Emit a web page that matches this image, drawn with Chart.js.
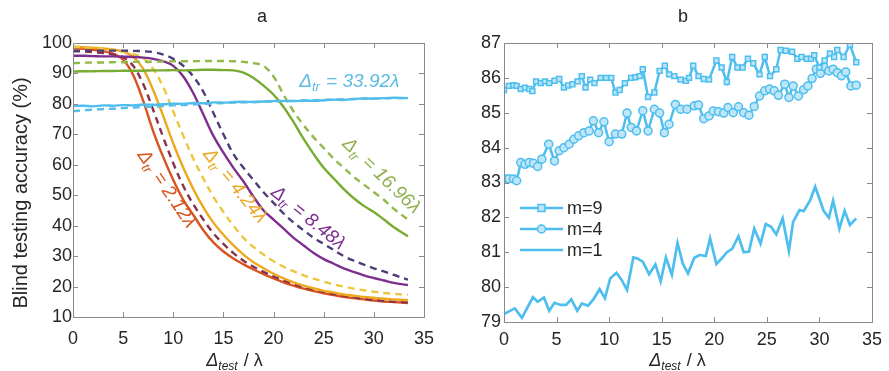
<!DOCTYPE html>
<html>
<head>
<meta charset="utf-8">
<script src="https://cdn.jsdelivr.net/npm/chart.js@4.4.0/dist/chart.umd.min.js"></script>
<style>
html, body { margin: 0; padding: 0; background: #fff; }
#wrap { position: relative; width: 889px; height: 371px; overflow: hidden; }
canvas { position: absolute; top: 0; }
#chartA { left: 0; }
#chartB { left: 445px; }
</style>
</head>
<body>
<div id="wrap">
  <canvas id="chartA" width="445" height="371"></canvas>
  <canvas id="chartB" width="444" height="371"></canvas>
</div>
<script>
// ---- panel a data (x in units of lambda, y = accuracy %) ----
const aX = [0,1,2,3,4,5,6,7,8,9,10,11,12,13,14,15,16,17,18,19,20,21,22,23,24,25,26,27,28,29,30,31,32,33.4];

const red212Solid  = [98.3,98.1,97.8,97.3,96.5,94.5,89.5,81,71,62.5,55,48.5,43.5,38.5,34.5,31.5,29.2,27.3,25.6,24.1,22.7,21.4,20.3,19.3,18.5,17.8,17.2,16.6,16.2,15.8,15.4,15.1,14.9,14.6];
const red212Dash   = [97.3,97.2,97,96.7,96.2,95.3,92.5,86.5,78,69,60.5,53,47,42,37.5,34,31,28.5,26.5,24.8,23.3,22,20.8,19.8,19,18.2,17.5,17,16.5,16,15.6,15.3,15,14.8];
const yel424Solid  = [98.7,98.6,98.4,98.2,97.8,97.2,95.5,91.5,84.5,76,67,59,52,46,41,37,33.5,30.5,28,26,24.2,22.7,21.4,20.3,19.4,18.6,18,17.4,17,16.6,16.3,16,15.8,15.5];
const yel424Dash   = [98.8,98.7,98.5,98.2,97.8,97.2,96.4,95,91.5,85.5,77.5,69.5,62,55.5,49.5,44.5,40,36,33,30.5,28.3,26.5,25,23.7,22.6,21.6,20.7,20,19.3,18.8,18.3,17.9,17.6,17.3];
const pur848Solid  = [95.8,95.8,95.7,95.6,95.6,95.5,95.4,95.2,94.8,94,92.5,89,83.5,76.5,69.5,64,59,54.5,49.5,45,42,39,36,33.5,31,29,27.5,26,24.8,23.7,22.8,22,21.2,20.5];
const pur848Dash   = [97.5,97.5,97.5,97.5,97.5,97.5,97.4,97.3,97,96.2,94.8,92.5,89,84,77,70,63.5,59,55,51,47.5,44,41,38.5,36,34,32,30,28.5,27.2,26,25,23.8,22.3];
const grn1696Solid = [90.6,90.7,90.7,90.8,90.8,90.9,90.9,90.9,91,91,91.1,91,91.1,91.2,91.2,91.1,91,90.3,88.5,86,83,79,74,68.5,63.5,59,55.5,52,49,46.5,44.5,42,39.5,36.5];
const grn1696Dash  = [93.4,93.5,93.6,93.6,93.7,93.7,93.8,93.8,93.9,93.9,94,94,94,94.1,94.1,94.1,94,93.8,93.4,92.5,89,83,77.5,73,69,65.5,62,59,56,53.5,51,48.5,45.5,42];
const blu3392Solid = [79.3,79.4,79.2,79.5,79.4,79.6,79.5,79.8,79.7,79.9,80.1,80,80.3,80.2,80.5,80.4,80.6,80.7,80.6,80.8,80.9,81,80.9,81.1,81,81.2,81.4,81.3,81.6,81.8,81.7,81.9,82,81.9];
const blu3392Dash  = [77.6,77.9,78.1,78.3,78.4,78.6,78.8,79,79.1,79.3,79.5,79.6,79.8,80,80.1,80.3,80.4,80.5,80.6,80.7,80.8,80.9,81,81.1,81.2,81.3,81.4,81.5,81.6,81.7,81.8,81.8,81.9,81.9];

// ---- panel b data ----
const m9X = [0,0.47,0.9,1.2,1.6,2,2.4,2.7,3.06,3.5,3.9,4.3,4.8,5.25,5.7,6.1,6.5,7,7.4,7.75,8.2,8.6,9.2,9.7,10.2,10.6,11,11.5,12.1,12.5,12.9,13.2,13.7,14.3,14.8,15.3,15.7,16.2,16.8,17.3,17.6,18,18.5,19,19.5,20.2,20.7,21.2,21.7,22.2,22.7,23.2,23.7,24.3,24.8,25.3,25.9,26.3,26.8,27.4,27.9,28.3,28.8,29.2,29.5,30,30.5,31,31.4,31.7,32.3,32.9,33.5];
const m9Y = [85.65,85.77,85.79,85.77,85.68,85.72,85.68,85.62,85.9,85.85,85.9,85.85,85.92,85.97,85.72,85.78,85.82,85.9,86.05,85.72,85.95,85.85,86,86,86,85.58,85.65,85.85,86,86.02,86.05,86.25,85.45,85.58,86.2,86.35,86.1,86.05,85.95,85.92,86,86.35,86.05,85.97,85.95,86.5,86.3,85.88,86.6,86.3,86.3,86.55,86.42,86.1,86.6,86.05,86.25,86.8,86.78,86.75,86.55,86.6,86.55,86.55,86.65,86.3,86.5,86.7,86.6,86.8,86.6,86.95,86.45];
const m4X = [0,0.47,0.9,1.2,1.6,2,2.4,2.8,3.2,3.6,4.25,4.8,5.25,5.7,6.2,6.65,7.1,7.6,8.1,8.5,9,9.5,10,10.6,11.2,11.7,12.1,12.6,13.2,13.7,14.3,14.8,15.25,15.7,16.3,16.8,17.4,18.1,18.5,19,19.5,19.9,20.4,20.9,21.3,21.8,22.3,22.8,23.3,23.8,24.3,24.8,25.25,25.7,26.1,26.7,27.1,27.5,28,28.5,28.9,29.3,29.7,30.1,30.4,30.9,31.3,31.7,32.1,32.5,33,33.5];
const m4Y = [83.11,83.11,83.1,83.05,83.57,83.52,83.57,83.55,83.46,83.67,84.1,83.62,83.91,84,84.1,84.24,84.34,84.43,84.48,84.77,84.43,84.74,84.17,84.39,84.39,84.99,84.58,84.48,85.06,84.48,85.1,84.99,84.43,84.67,85.24,85.1,85.1,85.2,85.22,84.83,84.91,85.05,85.03,84.99,85.15,85,85.17,85,84.93,85.18,85.48,85.63,85.68,85.63,85.5,85.82,85.44,85.77,85.48,85.66,85.77,85.98,86.25,86.13,86.32,86.2,86.25,86.15,86.06,86.17,85.77,85.79];
const m1X = [0,1.03,1.7,2.75,3.2,3.8,4.3,4.8,5.4,5.9,6.4,6.97,7.4,8,8.5,9.1,9.6,10.1,10.7,11.2,11.7,12.3,12.7,13.2,13.8,14.4,14.9,15.4,15.97,16.5,17,17.5,18.1,18.6,19.2,19.6,20.2,20.7,21.2,21.7,22.3,22.8,23.3,23.8,24.4,24.9,25.4,25.9,26.5,27.1,27.5,28.1,28.5,29.1,29.6,30.4,30.9,31.3,31.9,32.4,32.9,33.5];
const m1Y = [79.23,79.39,79.12,79.71,79.58,79.7,79.32,79.55,79.49,79.49,79.65,79.32,79.53,79.47,79.65,79.94,79.68,80.25,80.41,80.2,79.92,80.85,80.82,80.73,80.37,80.65,80.17,80.85,80.35,81.27,80.68,80.39,80.84,80.92,80.89,81.4,80.66,80.82,81,81.1,81.46,81,81.02,81.68,81.25,81.81,81.73,81.51,81.97,81.04,81.87,82.21,82.18,82.48,82.88,82.19,81.99,82.48,81.68,82.19,81.78,81.97];

const FONT = '"Liberation Sans", Arial, sans-serif';
const TXT = '#262626';
const LBLUE = '#4dbeee';

function pts(xs, ys) { return xs.map((x, i) => ({ x: x, y: ys[i] })); }

function aLine(ys, color, dashed) {
    return { data: pts(aX, ys), borderColor: color, borderWidth: 2.4, borderDash: dashed ? [7, 5] : [], pointRadius: 0, tension: 0.35, fill: false };
}

// italic delta with subscript, then the rest of the text
function drawDelta(ctx, x, y, sub, rest, size, color, angle, restItalic) {
    ctx.save();
    ctx.translate(x, y);
    ctx.rotate(angle * Math.PI / 180);
    ctx.fillStyle = color;
    ctx.textBaseline = 'middle';
    ctx.textAlign = 'left';
    const big = `italic ${size}px ${FONT}`;
    const small = `italic ${Math.round(size * 0.68)}px ${FONT}`;
    const restFont = restItalic ? big : `${size}px ${FONT}`;
    ctx.font = big; const w1 = ctx.measureText('Δ').width;
    ctx.font = small; const w2 = ctx.measureText(sub).width;
    ctx.font = restFont; const w3 = ctx.measureText(rest).width;
    const x0 = -(w1 + w2 + w3) / 2;
    ctx.font = big; ctx.fillText('Δ', x0, 0);
    ctx.font = small; ctx.fillText(sub, x0 + w1, size * 0.3);
    ctx.font = restFont; ctx.fillText(rest, x0 + w1 + w2 + 1, 0);
    ctx.restore();
}

// box round the plot with MATLAB style inner ticks, plus titles and notes
const decorPlugin = {
    id: 'decor',
    afterDraw(chart, args, opts) {
        const { ctx, chartArea: a, scales } = chart;
        ctx.save();
        ctx.strokeStyle = '#8a8a8a';
        ctx.lineWidth = 1;
        ctx.strokeRect(Math.round(a.left) + 0.5, Math.round(a.top) + 0.5, Math.round(a.right - a.left), Math.round(a.bottom - a.top));
        const len = 5;
        ctx.beginPath();
        scales.x.ticks.forEach(t => {
            const px = Math.round(scales.x.getPixelForValue(t.value)) + 0.5;
            ctx.moveTo(px, a.bottom); ctx.lineTo(px, a.bottom - len);
            ctx.moveTo(px, a.top); ctx.lineTo(px, a.top + len);
        });
        scales.y.ticks.forEach(t => {
            const py = Math.round(scales.y.getPixelForValue(t.value)) + 0.5;
            ctx.moveTo(a.left, py); ctx.lineTo(a.left + len, py);
            ctx.moveTo(a.right, py); ctx.lineTo(a.right - len, py);
        });
        ctx.stroke();

        // panel title
        ctx.fillStyle = TXT;
        ctx.font = `18px ${FONT}`;
        ctx.textAlign = 'center';
        ctx.textBaseline = 'middle';
        ctx.fillText(opts.title, opts.titleX, 17);

        // x axis title
        drawDelta(ctx, opts.xTitleX, 361, 'test', ' / λ', 18, TXT, 0, false);

        if (opts.yTitle) {
            ctx.save();
            ctx.translate(21, 193);
            ctx.rotate(-Math.PI / 2);
            ctx.font = `20px ${FONT}`;
            ctx.fillStyle = TXT;
            ctx.textAlign = 'center';
            ctx.textBaseline = 'middle';
            ctx.fillText('Blind testing accuracy (%)', 0, 0);
            ctx.restore();
        }

        (opts.notes || []).forEach(n => {
            const px = scales.x.getPixelForValue(n.x);
            const py = scales.y.getPixelForValue(n.y);
            drawDelta(ctx, px, py, 'tr', ' = ' + n.text, 19, n.color, n.angle, true);
        });

        if (opts.legend) {
            const lg = opts.legend;
            ctx.font = `18px ${FONT}`;
            ctx.textAlign = 'left';
            ctx.textBaseline = 'middle';
            lg.items.forEach((it, i) => {
                const y = lg.top + i * lg.step;
                ctx.strokeStyle = LBLUE;
                ctx.lineWidth = 2.5;
                ctx.beginPath();
                ctx.moveTo(lg.left, y); ctx.lineTo(lg.left + 43, y);
                ctx.stroke();
                const cx = lg.left + 21.5;
                ctx.lineWidth = 1.5;
                ctx.fillStyle = '#bfe6f7';
                if (it.marker === 'rect') {
                    ctx.fillRect(cx - 3.5, y - 3.5, 7, 7);
                    ctx.strokeRect(cx - 3.5, y - 3.5, 7, 7);
                } else if (it.marker === 'circle') {
                    ctx.beginPath(); ctx.arc(cx, y, 4, 0, Math.PI * 2); ctx.fill(); ctx.stroke();
                }
                ctx.fillStyle = TXT;
                ctx.fillText(it.label, lg.left + 47, y + 1);
            });
        }
        ctx.restore();
    }
};

function axisOpts(min, max, step, fitW, fitH, padX, padY) {
    return {
        x: {
            type: 'linear', min: 0, max: 35,
            grid: { display: false, drawTicks: false }, border: { display: false },
            ticks: { stepSize: 5, color: TXT, font: { family: FONT, size: 18 }, padding: padX, maxRotation: 0 },
            afterFit: s => { s.height = fitH; }
        },
        y: {
            type: 'linear', min: min, max: max,
            grid: { display: false, drawTicks: false }, border: { display: false },
            ticks: { stepSize: step, color: TXT, font: { family: FONT, size: 18 }, padding: padY },
            afterFit: s => { s.width = fitW; }
        }
    };
}

new Chart(document.getElementById('chartA'), {
    type: 'line',
    data: {
        datasets: [
            aLine(blu3392Dash, '#56bde8', true),
            aLine(blu3392Solid, LBLUE, false),
            aLine(grn1696Dash, '#93b84a', true),
            aLine(grn1696Solid, '#77ac30', false),
            aLine(pur848Dash, '#4f3d78', true),
            aLine(pur848Solid, '#7e2f8e', false),
            aLine(yel424Dash, '#ecc63e', true),
            aLine(yel424Solid, '#eda81e', false),
            aLine(red212Dash, '#86324f', true),
            aLine(red212Solid, '#d9531e', false)
        ]
    },
    options: {
        responsive: false,
        animation: false,
        layout: { padding: { left: 0, right: 8, top: 43, bottom: 0 } },
        scales: axisOpts(10, 100, 10, 73, 54, 11, 1),
        plugins: {
            legend: { display: false },
            tooltip: { enabled: false },
            decor: {
                title: 'a', titleX: 262, xTitleX: 234, yTitle: true,
                notes: [
                    { x: 27.5, y: 87.4, text: '33.92λ', color: '#5cbbe4', angle: 0 },
                    { x: 30.7, y: 56.5, text: '16.96λ', color: '#8fb04c', angle: 44 },
                    { x: 23.4, y: 42.6, text: '8.48λ', color: '#7e2f8e', angle: 39 },
                    { x: 16.1, y: 53.2, text: '4.24λ', color: '#e9a824', angle: 51 },
                    { x: 9.3, y: 52.2, text: '2.12λ', color: '#d9531e', angle: 56 }
                ]
            }
        }
    },
    plugins: [decorPlugin]
});

new Chart(document.getElementById('chartB'), {
    type: 'line',
    data: {
        datasets: [
            { label: 'm=9', data: pts(m9X, m9Y), borderColor: LBLUE, borderWidth: 2.5, pointStyle: 'rect', pointRadius: 3.5, pointBorderWidth: 1.5, pointBackgroundColor: '#bfe6f7', pointBorderColor: LBLUE, tension: 0 },
            { label: 'm=4', data: pts(m4X, m4Y), borderColor: LBLUE, borderWidth: 2.5, pointStyle: 'circle', pointRadius: 4, pointBorderWidth: 1.5, pointBackgroundColor: '#bfe6f7', pointBorderColor: LBLUE, tension: 0 },
            { label: 'm=1', data: pts(m1X, m1Y), borderColor: LBLUE, borderWidth: 2.7, pointRadius: 0, tension: 0 }
        ]
    },
    options: {
        responsive: false,
        animation: false,
        layout: { padding: { left: 0, right: 12, top: 43, bottom: 0 } },
        scales: axisOpts(79, 87, 1, 59, 49, 7, 3),
        plugins: {
            legend: { display: false },
            tooltip: { enabled: false },
            decor: {
                title: 'b', titleX: 238, xTitleX: 232, yTitle: false,
                legend: { left: 75, top: 208, step: 21, items: [
                    { label: 'm=9', marker: 'rect' },
                    { label: 'm=4', marker: 'circle' },
                    { label: 'm=1', marker: 'none' }
                ] }
            }
        }
    },
    plugins: [decorPlugin]
});
</script>
</body>
</html>
